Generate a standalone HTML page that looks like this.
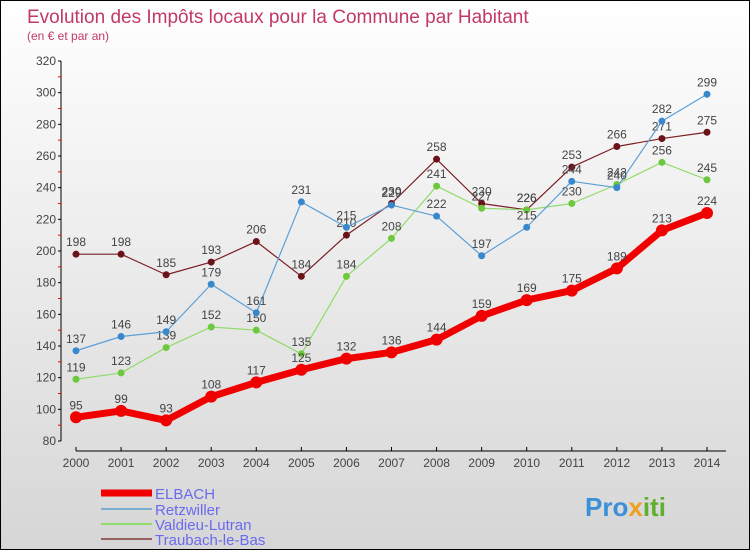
<!DOCTYPE html>
<html><head><meta charset="utf-8"><style>
body{margin:0}
#wrap{width:750px;height:550px;position:relative;box-sizing:border-box;border:1px solid #000;background:linear-gradient(#ffffff,#d6d6d6);font-family:"Liberation Sans",sans-serif;overflow:hidden}
svg text{font-family:"Liberation Sans",sans-serif}
</style></head><body>
<div id="wrap">
<svg id="chart" width="750" height="550">
<text x="26" y="22" font-size="19" fill="#c2386a">Evolution des Impôts locaux pour la Commune par Habitant</text>
<text x="26" y="39" font-size="12" fill="#c2386a">(en € et par an)</text>
<g id="axes"></g><g id="series"></g><g id="legend"></g>
<text x="584" y="515" font-size="26" font-weight="bold" fill="#3a8fd8">Pro<tspan fill="#f0a020">x</tspan><tspan fill="#60b030">iti</tspan></text>
</svg>
</div>
<script>
const years=[2000,2001,2002,2003,2004,2005,2006,2007,2008,2009,2010,2011,2012,2013,2014];
const elbach=[95,99,93,108,117,125,132,136,144,159,169,175,189,213,224];
const retzwiller=[137,146,149,179,161,231,215,229,222,197,215,244,240,282,299];
const valdieu=[119,123,139,152,150,135,184,208,241,227,226,230,242,256,245];
const traubach=[198,198,185,193,206,184,210,230,258,230,226,253,266,271,275];
const yTicks=[80,100,120,140,160,180,200,220,240,260,280,300,320];
const NS="http://www.w3.org/2000/svg";
const xs=i=>75+i*(631/14);
const ys=v=>440-(v-80)*(380/240);
function mk(tag,attrs,parent){const e=document.createElementNS(NS,tag);for(const k in attrs)e.setAttribute(k,attrs[k]);parent.appendChild(e);return e;}
const axes=document.getElementById('axes');
let yl=mk('line',{x1:60,y1:60,x2:60,y2:440,stroke:'#000'},axes);


yTicks.forEach((t,i)=>{
  mk('line',{x1:57,x2:60,y1:ys(t),y2:ys(t),stroke:'#000'},axes);
  if(i<yTicks.length-1) mk('line',{x1:57,x2:60,y1:ys(t+10),y2:ys(t+10),stroke:'#f00'},axes);
  const tx=mk('text',{x:55,y:ys(t)+4,'font-size':12,fill:'#444','text-anchor':'end'},axes);
  tx.textContent=t;
  
  
});
let xl=mk('line',{x1:75,y1:450,x2:725,y2:450,stroke:'#000'},axes);


years.forEach((y,i)=>{
  mk('line',{x1:xs(i),x2:xs(i),y1:446,y2:450,stroke:'#000'},axes);
  const tx=mk('text',{x:xs(i),y:466,'font-size':12,fill:'#444','text-anchor':'middle'},axes);
  tx.textContent=y;
  
  
});
const seriesG=document.getElementById('series');
const defs=[
 {name:'traubach',data:traubach,color:'#7a1e24',dot:'#6a1218',w:1.2,r:3.5},
 {name:'valdieu',data:valdieu,color:'#8fdc6a',dot:'#6cc83c',w:1.2,r:3.5},
 {name:'retzwiller',data:retzwiller,color:'#5c9fd8',dot:'#3a88cc',w:1.2,r:3.5},
 {name:'elbach',data:elbach,color:'#f00000',dot:'#f00000',w:7,r:6}
];
defs.forEach(s=>{
  const g=mk('g',{},seriesG);
  
  
  const p=mk('polyline',{points:s.data.map((v,i)=>xs(i)+','+ys(v)).join(' '),fill:'none',stroke:s.color,'stroke-width':s.w,'stroke-linejoin':'round'},g);
  
  
  s.data.forEach((v,i)=>{
    const c=mk('circle',{cx:xs(i),cy:ys(v),r:s.r,fill:s.dot},g);
    
    
    const t=mk('text',{x:xs(i),y:ys(v)-8,'font-size':12,fill:'#444','text-anchor':'middle'},g);
    t.textContent=v;
    
    
  });
});
const leg=document.getElementById('legend');
const legItems=[['ELBACH','#f00000',7,492],['Retzwiller','#7aaed0',2,508],['Valdieu-Lutran','#8fdc6a',2,523],['Traubach-le-Bas','#956060',2,538]];
legItems.forEach(([n,c,w,y])=>{
  const g=mk('g',{},leg);
  
  
  mk('line',{x1:100,x2:151,y1:y,y2:y,stroke:c,'stroke-width':w},g);
  const t=mk('text',{x:154,y:y+6,'font-size':15,fill:'#6a6af0'},g);
  t.textContent=n;
});
</script>
</body></html>
